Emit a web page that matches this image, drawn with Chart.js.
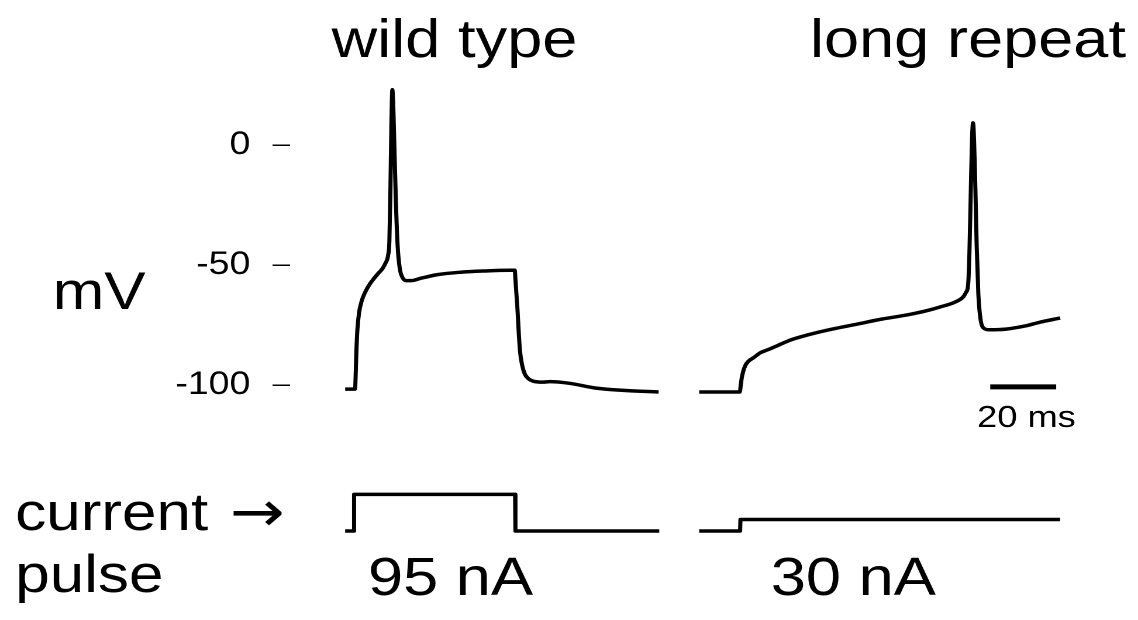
<!DOCTYPE html>
<html lang="en">
<head>
  <meta charset="UTF-8">
  <title>wild type / long repeat</title>
  <script src="https://cdn.jsdelivr.net/npm/chart.js"></script>
  <style>
    html, body { margin: 0; padding: 0; background: #fff; }
    /* the figure is drawn a bit narrower and stretched sideways, like the original */
    #wrap { width: 973px; height: 620px; transform: scaleX(1.1696); transform-origin: 0 0; }
  </style>
</head>
<body>

  <div id="wrap"><canvas id="trace" width="973" height="620"></canvas></div>

  <script>
    // voltage traces (ms, mV)
    const wildT  = [0, 3.0, 3.2, 3.4, 3.7, 4.2, 5.0, 6.0, 7.2, 8.5, 10.0, 11.3, 12.3, 13.0, 13.4, 13.7, 14.0, 14.3, 14.6, 15.0, 15.4, 15.9, 16.5, 17.3, 18.5, 20.0, 23, 28, 35, 42, 50, 51.4, 51.6, 51.9, 52.2, 52.6, 53.0, 53.6, 54.4, 55.5, 57.0, 60, 62, 68, 76, 85, 95];
    const wildMV = [-101.7, -101.7, -95, -86, -77, -70, -65, -61.5, -58.5, -56, -53.5, -51.5, -49, -46, -40, -20, 8, 23, 15, -5, -25, -42, -51, -55, -56.5, -56.5, -55.5, -54, -53, -52.5, -52.2, -52.2, -56, -62, -68, -78, -86, -91.5, -95.3, -97.3, -98.4, -98.8, -98.6, -99.3, -101.3, -102.3, -102.9];

    const longT  = [0, 12.3, 12.6, 12.9, 13.3, 14.0, 15.0, 16.5, 18.5, 21, 24, 28, 33, 40, 48, 55.5, 63, 68.5, 73, 77.6, 80.0, 80.9, 81.5, 81.9, 82.3, 82.7, 83.0, 83.3, 83.7, 84.1, 84.6, 85.2, 86, 88, 93, 98.8, 103.3, 109.4];
    const longMV = [-102.9, -102.9, -100, -97, -94.5, -91.8, -90, -88.6, -86.6, -85.2, -83.4, -81.1, -79.1, -76.8, -74.6, -72.5, -70.8, -69.2, -67.5, -65.4, -63.3, -61.3, -58.3, -45, -20, 3, 9.2, 2, -18, -42, -62, -72, -76, -77, -76.7, -75.4, -73.8, -72.1];

    // current pulses (ms, nA)
    const wildIT = [0, 2.6, 2.7, 51.5, 51.6, 95.2];
    const wildNA = [0, 0, 95, 95, 0, 0];
    const longIT = [0, 12.4, 12.5, 109.4];
    const longNA = [0, 0, 30, 30];

    const wildAmp = 95;
    const longAmp = 30;

    const yTicks = [0, -50, -100];

    // second recording is placed after the first one on the same time axis
    const LONG_OFFSET = 107.3;
    const barStart = 88.2;   // ms, in long-repeat time
    const barLen = 20;       // ms
    const barLevel = -100.8; // mV

    const FONT = '"Liberation Sans", Arial, sans-serif';

    function pts(ts, vs, off) {
      return ts.map((t, i) => ({ x: t + (off || 0), y: vs[i] }));
    }

    function trace(data, axis, width, smooth) {
      return {
        data: data,
        yAxisID: axis,
        borderColor: '#000',
        borderWidth: width || 3.5,
        pointRadius: 0,
        tension: 0,
        cubicInterpolationMode: smooth ? 'monotone' : 'default',
        fill: false,
        borderJoinStyle: 'round'
      };
    }

    const labels = {
      id: 'labels',
      afterDraw(chart) {
        const ctx = chart.ctx;
        ctx.save();
        ctx.fillStyle = '#000';
        ctx.textBaseline = 'alphabetic';
        const put = (txt, x, y, size, align, family) => {
          ctx.font = size + 'px ' + (family || FONT);
          ctx.textAlign = align || 'left';
          ctx.fillText(txt, x, y);
          return ctx.measureText(txt).width;
        };
        put('wild type', 388.6, 57, 54, 'center');
        put('long repeat', 827.6, 57, 54, 'center');
        put('mV', 45, 309, 53);
        const w = put('current ', 13, 530, 53);
        put('\u2192', 13 + w + 4, 531, 56, 'left', '"DejaVu Sans", sans-serif');
        put('pulse', 13, 592, 53);
        put(wildAmp + ' nA', 314.6, 595, 54);
        put(longAmp + ' nA', 659, 595, 54);
        put(barLen + ' ms', 877.6, 427, 31, 'center');
        ctx.restore();
      }
    };

    new Chart(document.getElementById('trace'), {
      type: 'line',
      data: {
        datasets: [
          trace(pts(wildT, wildMV), 'y', 3.5, true),
          trace(pts(longT, longMV, LONG_OFFSET), 'y', 3.5, true),
          trace(pts(wildIT, wildNA), 'yI'),
          trace(pts(longIT, longNA, LONG_OFFSET), 'yI'),
          trace(pts([barStart, barStart + barLen], [barLevel, barLevel], LONG_OFFSET), 'y', 5)
        ]
      },
      options: {
        responsive: false,
        animation: false,
        devicePixelRatio: 2,
        layout: { padding: { top: 60, bottom: 20, left: 0, right: 0 } },
        plugins: {
          legend: { display: false },
          tooltip: { enabled: false }
        },
        scales: {
          x: { type: 'linear', min: -16.7, max: 240.3, display: false },
          y: {
            position: 'left',
            min: -189.58,
            max: 35.42,
            afterFit: s => { s.width = 248; s.paddingTop = 0; s.paddingBottom = 0; },
            afterBuildTicks: s => { s.ticks = yTicks.map(v => ({ value: v })); },
            border: { display: false },
            grid: { drawOnChartArea: false, drawTicks: true, tickLength: 15, color: '#000', lineWidth: 1.5 },
            ticks: {
              color: '#000',
              padding: 19,
              font: { family: FONT, size: 32 },
              callback: v => String(v)
            }
          },
          yI: { min: -179.2, max: 1223.4, display: false }
        }
      },
      plugins: [labels]
    });
  </script>

</body>
</html>
